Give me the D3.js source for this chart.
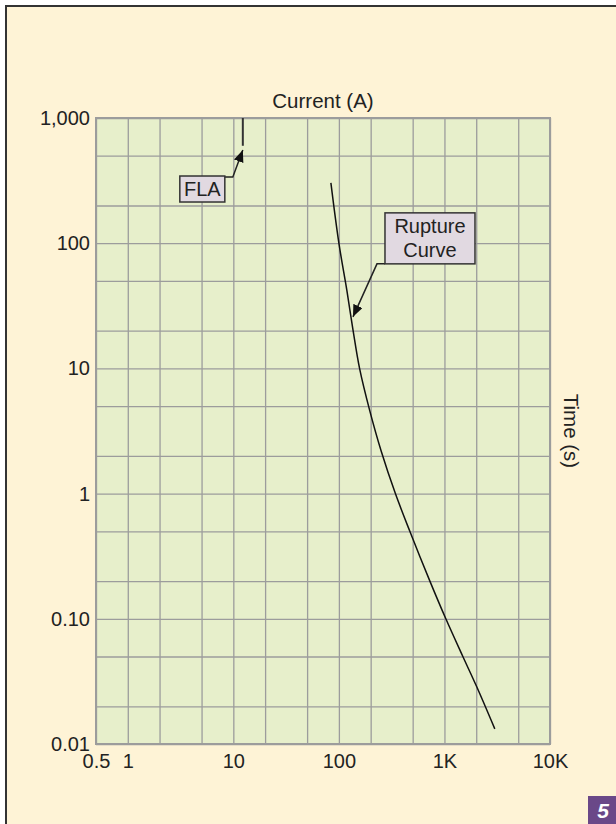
<!DOCTYPE html>
<html>
<head>
<meta charset="utf-8">
<script src="https://cdn.jsdelivr.net/npm/d3@7"></script>
<style>
  html, body { margin: 0; padding: 0; background: #fff; }
  svg { display: block; font-family: "Liberation Sans", Arial, Helvetica, sans-serif; }
</style>
</head>
<body>
<svg id="chart"></svg>
<script>
// grid lines (1-2-5 per decade)
const xGrid = [0.5, 1, 2, 5, 10, 20, 50, 100, 200, 500, 1000, 2000, 5000, 10000];
const yGrid = [0.01, 0.02, 0.05, 0.1, 0.2, 0.5, 1, 2, 5, 10, 20, 50, 100, 200, 500, 1000];
// tick labels
const xTicks = [0.5, 1, 10, 100, 1000, 10000];
const xTickLabels = ["0.5", "1", "10", "100", "1K", "10K"];
const yTicks = [1000, 100, 10, 1, 0.1, 0.01];
const yTickLabels = ["1,000", "100", "10", "1", "0.10", "0.01"];
// rupture curve (current A, time s)
const ruptureCurrent = [84, 100, 119, 136, 157, 196, 251, 343, 470, 728, 1031, 1494, 2028, 3000];
const ruptureTime = [303, 100, 42, 20.3, 10, 4.6, 2.2, 1, 0.5, 0.2, 0.1, 0.05, 0.0285, 0.0132];
// full load amps marker
const flaCurrent = [12.3, 12.3];
const flaTime = [1000, 600];

const width = 616, height = 824;
const margin = { top: 118, left: 96, right: 66, bottom: 80 };
const innerW = width - margin.left - margin.right;   // 454
const innerH = height - margin.top - margin.bottom;  // 626

const svg = d3.select("#chart").attr("width", width).attr("height", height);

// arrow marker
svg.append("defs").append("marker")
  .attr("id", "arrow")
  .attr("viewBox", "0 0 12 10")
  .attr("refX", 12).attr("refY", 5)
  .attr("markerWidth", 12).attr("markerHeight", 10)
  .attr("markerUnits", "userSpaceOnUse")
  .attr("orient", "auto")
  .append("path").attr("d", "M0,0 L12,5 L0,10 Z").attr("fill", "#111");

// page frame
svg.append("rect")
  .attr("x", 6).attr("y", 6).attr("width", width + 10).attr("height", height + 10)
  .attr("fill", "#fef3d6").attr("stroke", "#333").attr("stroke-width", 2);

const x = d3.scaleLog().domain([0.5, 10000]).range([0, innerW]);
const y = d3.scaleLog().domain([0.01, 1000]).range([innerH, 0]);

const g = svg.append("g").attr("transform", `translate(${margin.left},${margin.top})`);

g.append("rect").attr("width", innerW).attr("height", innerH).attr("fill", "#e7efcb");

// grid
const gx = g.append("g").attr("transform", `translate(0,${innerH})`)
  .call(d3.axisBottom(x).tickValues(xGrid).tickSize(-innerH).tickFormat(""));
const gy = g.append("g")
  .call(d3.axisLeft(y).tickValues(yGrid).tickSize(-innerW).tickFormat(""));
[gx, gy].forEach(a => {
  a.select(".domain").remove();
  a.selectAll(".tick line").attr("stroke", "#9c9c9c").attr("stroke-width", 1.3);
});

g.append("rect").attr("width", innerW).attr("height", innerH)
  .attr("fill", "none").attr("stroke", "#9c9c9c").attr("stroke-width", 2);

// tick labels
const ax = g.append("g").attr("transform", `translate(0,${innerH})`)
  .call(d3.axisBottom(x).tickValues(xTicks).tickSize(0).tickPadding(10)
    .tickFormat((d, i) => xTickLabels[i]));
const ay = g.append("g")
  .call(d3.axisLeft(y).tickValues(yTicks).tickSize(0).tickPadding(6)
    .tickFormat((d, i) => yTickLabels[i]));
[ax, ay].forEach(a => {
  a.select(".domain").remove();
  a.selectAll("text").attr("font-size", 20).attr("fill", "#222")
    .attr("font-family", "'Liberation Sans', Arial, sans-serif");
});

// axis titles
g.append("text").attr("x", innerW / 2).attr("y", -10).attr("text-anchor", "middle")
  .attr("font-size", 20.5).attr("fill", "#222").text("Current (A)");
g.append("text")
  .attr("transform", `translate(${innerW + 14},${innerH / 2}) rotate(90)`)
  .attr("text-anchor", "middle").attr("font-size", 20.5).attr("fill", "#222").text("Time (s)");

// curves
const line = d3.line().x(d => x(d[0])).y(d => y(d[1])).curve(d3.curveCatmullRom.alpha(0.5));
g.append("path")
  .datum(d3.zip(ruptureCurrent, ruptureTime))
  .attr("d", line).attr("fill", "none").attr("stroke", "#111").attr("stroke-width", 1.5);
g.append("path")
  .datum(d3.zip(flaCurrent, flaTime))
  .attr("d", d3.line().x(d => x(d[0])).y(d => y(d[1])))
  .attr("fill", "none").attr("stroke", "#333").attr("stroke-width", 2);

// annotations: tip in data units, box/leader offsets in px from the tip
const notes = [
  { lines: ["FLA"], tip: [12.3, 555], box: [-63, 26, 45, 26], elbow: [-10, 27], join: [-18, 27] },
  { lines: ["Rupture", "Curve"], tip: [136, 25.8], box: [32, -104, 90, 51], elbow: [24, -53], join: [32, -53] }
];
notes.forEach(n => {
  const tx = x(n.tip[0]), ty = y(n.tip[1]);
  g.append("path")
    .attr("d", `M${tx + n.join[0]},${ty + n.join[1]} L${tx + n.elbow[0]},${ty + n.elbow[1]} L${tx},${ty}`)
    .attr("fill", "none").attr("stroke", "#222").attr("stroke-width", 1.5)
    .attr("marker-end", "url(#arrow)");
  g.append("rect")
    .attr("x", tx + n.box[0]).attr("y", ty + n.box[1])
    .attr("width", n.box[2]).attr("height", n.box[3])
    .attr("fill", "#e1d9e1").attr("stroke", "#333").attr("stroke-width", 1.5);
  n.lines.forEach((t, i) => {
    g.append("text")
      .attr("x", tx + n.box[0] + n.box[2] / 2)
      .attr("y", ty + n.box[1] + 20 + i * 24)
      .attr("text-anchor", "middle").attr("font-size", 20).attr("fill", "#222").text(t);
  });
});

// figure badge
svg.append("rect").attr("x", 588).attr("y", 796).attr("width", 40).attr("height", 40).attr("fill", "#6a4888");
svg.append("text").attr("x", 603).attr("y", 818).attr("text-anchor", "middle")
  .attr("font-size", 21).attr("font-weight", "bold").attr("font-style", "italic")
  .attr("fill", "#fff").text("5");
</script>
</body>
</html>
